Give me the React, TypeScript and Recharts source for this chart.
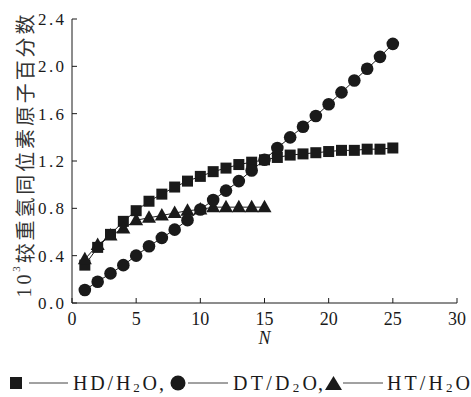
import { LineChart, Line, XAxis, YAxis } from 'recharts';

const nValues = [1, 2, 3, 4, 5, 6, 7, 8, 9, 10, 11, 12, 13, 14, 15, 16, 17, 18, 19, 20, 21, 22, 23, 24, 25];
const hdValues = [0.32, 0.47, 0.58, 0.69, 0.78, 0.86, 0.92, 0.98, 1.03, 1.07, 1.11, 1.14, 1.17, 1.19, 1.21, 1.23, 1.25, 1.26, 1.27, 1.28, 1.29, 1.29, 1.3, 1.3, 1.31];
const dtValues = [0.11, 0.18, 0.25, 0.32, 0.4, 0.48, 0.55, 0.62, 0.7, 0.79, 0.87, 0.95, 1.03, 1.12, 1.21, 1.31, 1.4, 1.49, 1.58, 1.68, 1.78, 1.88, 1.98, 2.08, 2.19];
const htValues = [0.37, 0.49, 0.57, 0.63, 0.7, 0.72, 0.74, 0.76, 0.78, 0.79, 0.81, 0.81, 0.81, 0.81, 0.81];

const xTicks = [0, 5, 10, 15, 20, 25, 30];
const yTicks = [0, 0.4, 0.8, 1.2, 1.6, 2.0, 2.4];

const yTitle = '较重氢同位素原子百分数';
const xTitle = 'N';

const data = nValues.map((n, i) => ({ n, hd: hdValues[i], dt: dtValues[i], ht: htValues[i] }));

const INK = '#1a1a1a';
const SERIF = 'Liberation Serif, Times New Roman, DejaVu Serif, serif';

const XTick = (props: any) => {
  const { x, y, payload } = props;
  return (
    <g>
      <line x1={x} x2={x} y1={y} y2={y - 5} stroke={INK} strokeWidth={1} />
      <text x={x} y={y + 22} textAnchor="middle" fontFamily={SERIF} fontSize={18} fill={INK}>
        {payload.value}
      </text>
    </g>
  );
};

const YTick = (props: any) => {
  const { x, y, payload } = props;
  return (
    <g>
      <line x1={x} x2={x + 5} y1={y} y2={y} stroke={INK} strokeWidth={1} />
      <text x={x - 34} y={y + 6} textAnchor="start" fontFamily={SERIF} fontSize={17} fill={INK}
        textLength={26} lengthAdjust="spacing">
        {Number(payload.value).toFixed(1)}
      </text>
    </g>
  );
};

const squareDot = (p: any) => {
  const { cx, cy, index } = p;
  if (cx == null || cy == null) return <g key={`sq-${index}`} />;
  return <rect key={`sq-${index}`} x={cx - 5.5} y={cy - 5.5} width={11} height={11} fill={INK} />;
};

const circleDot = (p: any) => {
  const { cx, cy, index } = p;
  if (cx == null || cy == null) return <g key={`ci-${index}`} />;
  return <circle key={`ci-${index}`} cx={cx} cy={cy} r={6.3} fill={INK} />;
};

const triDot = (p: any) => {
  const { cx, cy, index } = p;
  if (cx == null || cy == null) return <g key={`tr-${index}`} />;
  return (
    <polygon key={`tr-${index}`} points={`${cx},${cy - 7.5} ${cx - 7},${cy + 5} ${cx + 7},${cy + 5}`} fill={INK} />
  );
};

const YTitle = () => (
  <text
    transform="rotate(-90, 24, 156)"
    x={24}
    y={156}
    textAnchor="middle"
    dominantBaseline="central"
    fill="#333"
    fontSize={20}
    textLength={283}
    lengthAdjust="spacing"
  >
    <tspan fontFamily={SERIF}>10</tspan>
    <tspan fontFamily={SERIF} fontSize={11} dy={-8}>3</tspan>
    <tspan fontFamily="Noto Sans CJK SC, sans-serif" dy={8}>{yTitle}</tspan>
  </text>
);

const Legend = () => (
  <svg width={471} height={30} style={{ position: 'absolute', left: 0, top: 368 }}>
    <g transform="translate(0,-368)" fill={INK} stroke="none" fontFamily={SERIF}>
      <rect x={10} y={377} width={12} height={12} />
      <line x1={29} x2={68} y1={383} y2={383} stroke="#444" />
      <text x={73} y={390} fontSize={20} textLength={84} lengthAdjust="spacing">
        HD/H<tspan fontSize={13} dy={2}>2</tspan><tspan dy={-2}>O</tspan>
      </text>
      <text x={159} y={390} fontSize={20}>,</text>
      <circle cx={178} cy={383} r={7.5} />
      <line x1={188} x2={228} y1={383} y2={383} stroke="#444" />
      <text x={233} y={390} fontSize={20} textLength={84} lengthAdjust="spacing">
        DT/D<tspan fontSize={13} dy={2}>2</tspan><tspan dy={-2}>O</tspan>
      </text>
      <text x={318} y={390} fontSize={20}>,</text>
      <polygon points="333.5,376 325,390 342,390" />
      <line x1={343} x2={383} y1={383} y2={383} stroke="#444" />
      <text x={387} y={390} fontSize={20} textLength={83} lengthAdjust="spacing">
        HT/H<tspan fontSize={13} dy={2}>2</tspan><tspan dy={-2}>O</tspan>
      </text>
    </g>
  </svg>
);

export default function App() {
  return (
    <div style={{ position: 'absolute', left: 0, top: 0, width: 471, height: 397, background: '#fff', fontFamily: SERIF }}>
      <LineChart width={471} height={352} data={data} margin={{ top: 19, right: 14, bottom: 0, left: 0 }}>
        <XAxis
          dataKey="n"
          type="number"
          domain={[0, 30]}
          ticks={xTicks}
          interval={0}
          height={49}
          tickSize={0}
          tickMargin={0}
          tickLine={false}
          axisLine={{ stroke: INK }}
          tick={<XTick />}
          label={{
            content: () => (
              <text x={264.5} y={344} textAnchor="middle" fontFamily={SERIF} fontStyle="italic" fontSize={18} fill={INK}>
                {xTitle}
              </text>
            ),
          }}
        />
        <YAxis
          type="number"
          domain={[0, 2.4]}
          ticks={yTicks}
          interval={0}
          width={72}
          tickSize={0}
          tickMargin={0}
          tickLine={false}
          axisLine={{ stroke: INK }}
          tick={<YTick />}
          label={{ content: () => <YTitle /> }}
        />
        <Line dataKey="hd" stroke={INK} strokeWidth={1} dot={squareDot} activeDot={false} isAnimationActive={false} />
        <Line dataKey="ht" stroke={INK} strokeWidth={1} dot={triDot} activeDot={false} isAnimationActive={false} />
        <Line dataKey="dt" stroke={INK} strokeWidth={1} dot={circleDot} activeDot={false} isAnimationActive={false} />
      </LineChart>
      <Legend />
    </div>
  );
}
